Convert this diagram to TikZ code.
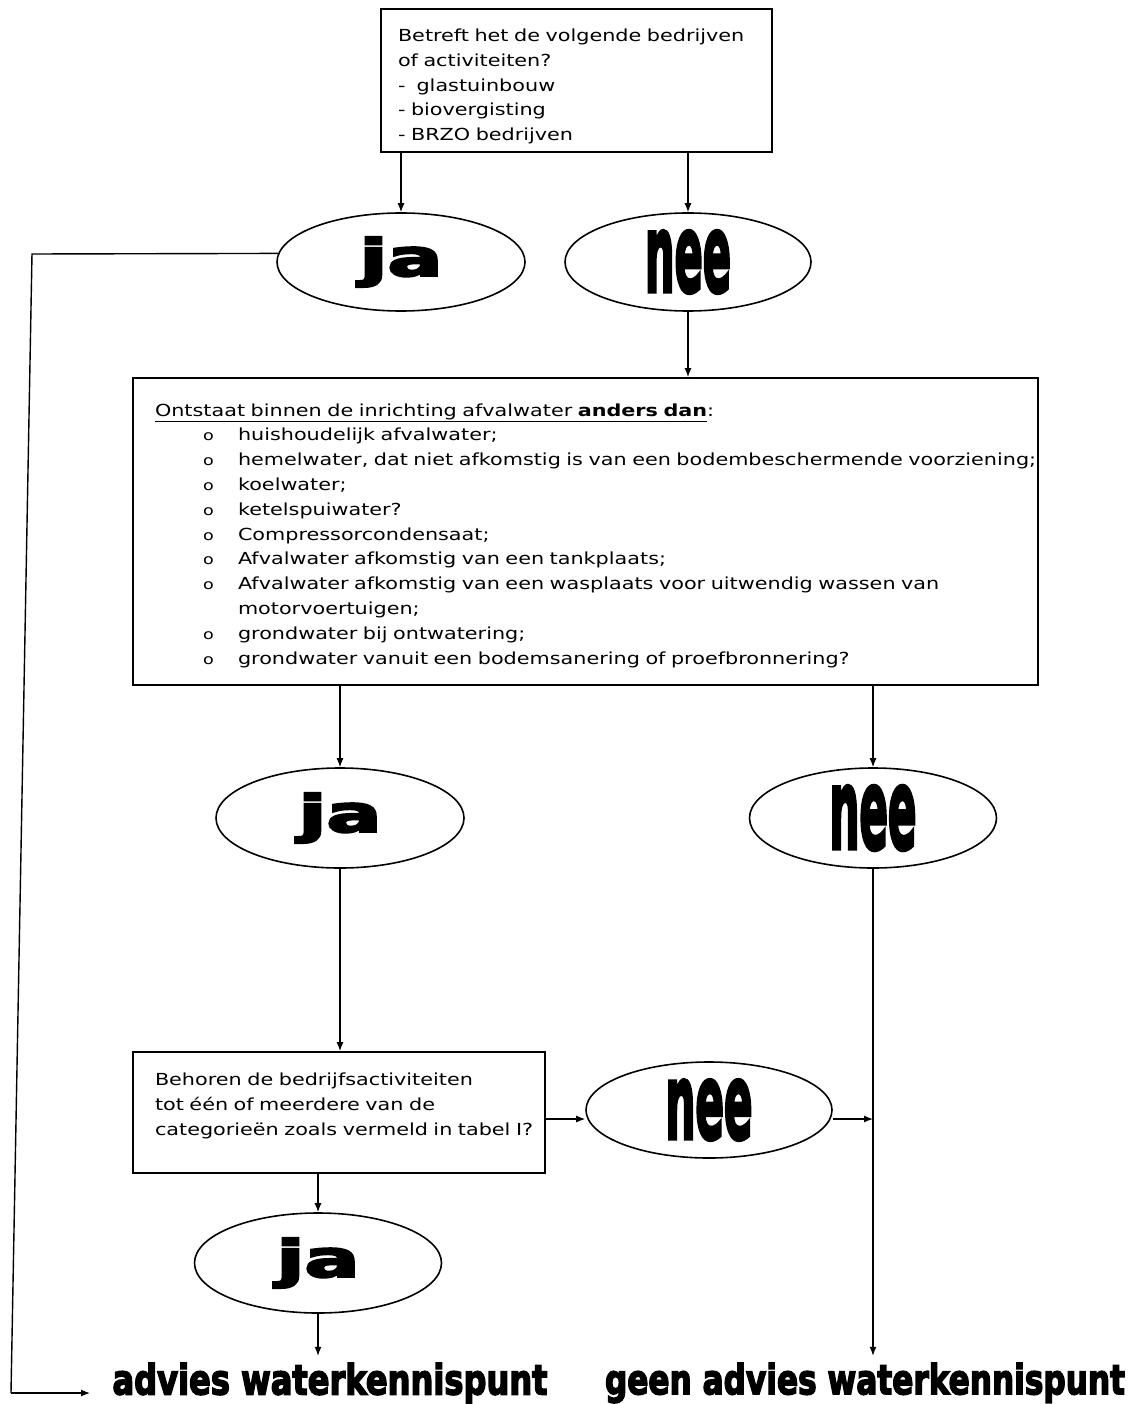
\documentclass[tikz,border=0pt]{standalone}
\usepackage{fontspec}
\setmainfont[FakeStretch=1.25]{DejaVu Sans}
\newfontfamily\heavyfont[BoldFeatures={FakeBold=4}]{DejaVu Sans}
\usetikzlibrary{shapes.geometric,arrows.meta}
\newcommand{\bulitem}{\hspace*{48pt}\makebox[35pt][l]{\fontsize{14}{14}\selectfont o}}
\newcommand{\bigword}[3]{\resizebox*{#1}{#2}{\heavyfont\bfseries #3}}
\begin{document}
\begin{tikzpicture}[x=1pt,y=-1pt,
  qbox/.style={draw, line width=1.8pt, rectangle, inner ysep=0pt, align=left,
    font=\fontsize{16.6}{24.8}\selectfont},
  oval/.style={draw, line width=1.6pt, ellipse, inner sep=0pt},
  arr/.style={line width=1.2pt, -{Latex[length=9pt,width=7pt]}},
  plain/.style={line width=1.4pt},
  result/.style={inner sep=0pt}]
\useasboundingbox (0,0) rectangle (1132,1404);
\fill[white] (0,0) rectangle (1132,1404);

% question 1
\node[qbox, minimum width=391pt, minimum height=143pt, text width=357pt, inner xsep=17pt] (q1) at (576.5,80.5)
{\mbox{}\\[0pt]
\mbox{Betreft het de volgende bedrijven}\\
of activiteiten?\\
-\ \ glastuinbouw\\
- biovergisting\\
- BRZO bedrijven};

\node[oval, minimum width=248pt, minimum height=98pt] (ja1) at (401,262) {\bigword{83pt}{50pt}{ja}};
\node[oval, minimum width=246pt, minimum height=98pt] (nee1) at (688,262) {\bigword{86pt}{62pt}{nee}};

% question 2
\node[qbox, minimum width=905pt, minimum height=307pt, text width=861pt, inner xsep=22pt] (q2) at (585.5,531.5)
{\mbox{}\\[-4.2pt]
\underline{Ontstaat binnen de inrichting afvalwater \textbf{anders dan}}:\\
\bulitem huishoudelijk afvalwater;\\
\bulitem \mbox{hemelwater, dat niet afkomstig is van een bodembeschermende voorziening;}\\
\bulitem koelwater;\\
\bulitem ketelspuiwater?\\
\bulitem Compressorcondensaat;\\
\bulitem Afvalwater afkomstig van een tankplaats;\\
\bulitem \mbox{Afvalwater afkomstig van een wasplaats voor uitwendig wassen van}\\
\hspace*{83pt}motorvoertuigen;\\
\bulitem grondwater bij ontwatering;\\
\bulitem \mbox{grondwater vanuit een bodemsanering of proefbronnering?}};

\node[oval, minimum width=248pt, minimum height=100pt] (ja2) at (340,818) {\bigword{83pt}{50pt}{ja}};
\node[oval, minimum width=247pt, minimum height=100pt] (nee2) at (873,818) {\bigword{87pt}{64pt}{nee}};

% question 3
\node[qbox, minimum width=412pt, minimum height=121pt, text width=368pt, inner xsep=22pt] (q3) at (339,1112.5)
{\mbox{Behoren de bedrijfsactiviteiten}\\
\mbox{tot één of meerdere van de}\\
\mbox{categorieën zoals vermeld in tabel I?}\\[-8pt]\mbox{}};

\node[oval, minimum width=246pt, minimum height=96pt] (nee3) at (709,1110) {\bigword{87pt}{60pt}{nee}};
\node[oval, minimum width=247pt, minimum height=100pt] (ja3) at (318,1263) {\bigword{83pt}{50pt}{ja}};

% results
\node[result] (adv) at (330,1383) {\bigword{435pt}{40pt}{advies waterkennispunt}};
\node[result] (geen) at (865,1383) {\bigword{520pt}{40pt}{geen advies waterkennispunt}};

% connectors
\draw[arr] (q1.south -| ja1) -- (ja1.north);
\draw[arr] (q1.south -| nee1) -- (nee1.north);
\draw[arr] (nee1.south) -- (nee1.south |- q2.north);
\draw[arr] (q2.south -| ja2) -- (ja2.north);
\draw[arr] (q2.south -| nee2) -- (nee2.north);
\draw[arr] (ja2.south) -- (ja2.south |- q3.north);
\draw[arr] (q3.south -| ja3) -- (ja3.north);
\draw[arr, shorten >=7pt] (ja3.south) -- (adv.north -| ja3);
\draw[arr, shorten >=7pt] (nee2.south) -- (geen.north -| nee2);

\coordinate (hline) at (0,1119);
\draw[arr] (q3.east |- hline) -- (nee3.west |- hline);
\draw[arr] (nee3.east |- hline) -- (nee2 |- hline);

\coordinate (c1) at (32,254);
\coordinate (c2) at (11,1393);
\coordinate (c3) at (90,1393);
\draw[plain] (ja1.176) -- (c1) -- (c2);
\draw[arr] (c2) -- (c3);
\end{tikzpicture}
\end{document}
